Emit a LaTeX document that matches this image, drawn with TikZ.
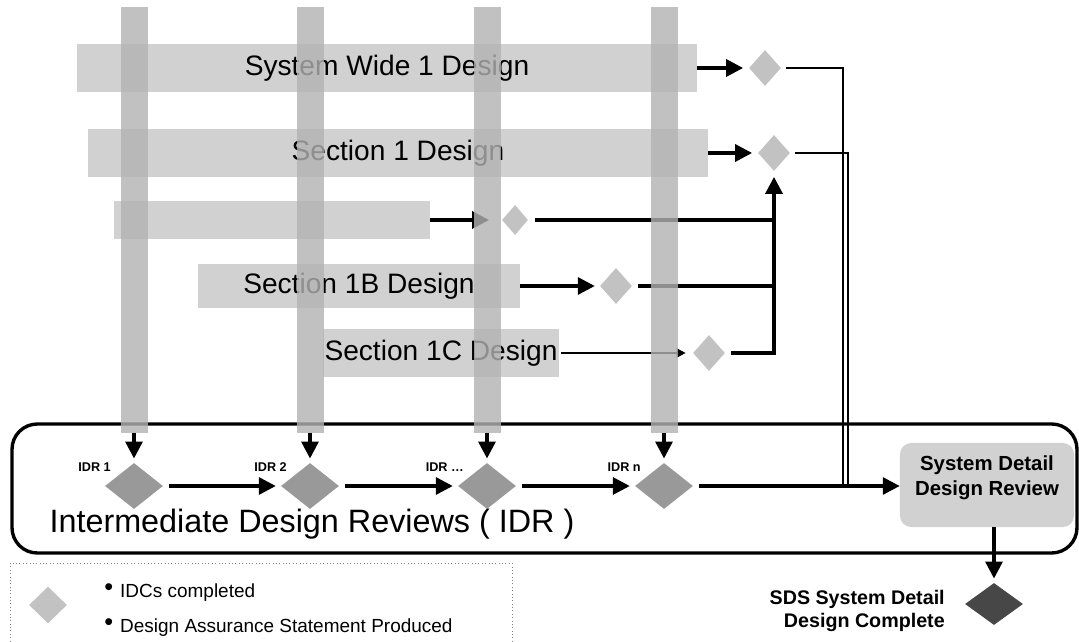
\documentclass[tikz,border=0pt]{standalone}
\usepackage{fontspec}
\setmainfont{Liberation Sans}
\usetikzlibrary{arrows.meta,shapes.geometric}
\definecolor{Barcolor}{gray}{0.82}
\definecolor{Colcolor}{gray}{0.70}
\definecolor{Diacolor}{gray}{0.76}
\definecolor{Idrcolor}{gray}{0.60}
\definecolor{Sdscolor}{gray}{0.28}

\begin{document}
\begin{tikzpicture}[x=0.025cm,y=-0.025cm,
  bar/.style={fill=Barcolor,inner sep=0pt,font=\fontsize{20}{22}\selectfont},
  dia/.style={diamond,fill=Diacolor,inner sep=0pt,minimum width=0.8cm,minimum height=0.9cm},
  idr/.style={diamond,fill=Idrcolor,inner sep=0pt,minimum width=1.45cm,minimum height=1.15cm},
  ln/.style={line width=2.4pt},
  arr/.style={line width=2.4pt,-{Triangle[length=12pt,width=12pt]}},
  lab/.style={font=\fontsize{9}{10}\selectfont\bfseries,inner sep=0pt},
  item/.style={anchor=west,inner sep=0pt,font=\fontsize{13.5}{16}\selectfont}]
\useasboundingbox (0,0) rectangle (1079,642);

\node[bar,minimum width=15.48cm,minimum height=1.18cm] (sw) at (387,68) {System Wide 1 Design\hspace{12pt}};
\node[bar,minimum width=15.5cm,minimum height=1.2cm] (s1) at (398,153) {Section 1 Design};
\node[bar,minimum width=7.88cm,minimum height=0.95cm] (sx) at (272,220) {};
\node[bar,minimum width=8.05cm,minimum height=1.1cm] (s1b) at (359,286) {Section 1B Design};
\node[bar,minimum width=5.88cm,minimum height=1.2cm] (s1c) at (441,353) {Section 1C Design};

\node[dia] (dsw) at (765,68) {};
\node[dia] (ds1) at (774,153) {};
\node[dia,minimum width=0.65cm,minimum height=0.75cm] (dsx) at (515,220) {};
\node[dia] (ds1b) at (616,286) {};
\node[dia] (ds1c) at (709,353) {};

\coordinate (m1) at (843,486);
\coordinate (m2) at (848,486);

\draw[arr,shorten >=4pt] (sw.east) -- (dsw.west);
\draw[arr,shorten >=4pt] (s1.east) -- (ds1.west);
\draw[arr,shorten >=9pt] (sx.east) -- (dsx.west);
\draw[arr,shorten >=3.5pt] (s1b.east) -- (ds1b.west);
\draw[line width=1.3pt,-{Triangle[length=6.5pt,width=6.5pt]},shorten <=1.5pt,shorten >=5pt] (s1c.east) -- (ds1c.west);

\draw[line width=1.7pt,shorten <=3pt] (dsw.east) -| (m1);
\draw[line width=1.7pt,shorten <=3pt] (ds1.east) -| (m2);
\draw[ln,shorten <=5pt] (dsx.east) -- (dsx.east -| ds1.south);
\draw[ln,shorten <=4pt] (ds1b.east) -- (ds1b.east -| ds1.south);
\draw[arr,shorten <=4pt,shorten >=4pt] (ds1c.east) -| (ds1.south);

\draw[line width=2.4pt,rounded corners=18pt] (12,424) rectangle (1077,553);

\foreach \n/\x in {1/134,2/310,3/487,4/664}
\fill[Colcolor,fill opacity=0.8] (\x-13.5,7) rectangle (\x+13.5,433);

\foreach \n/\x/\t in {1/134/{IDR 1},2/310/{IDR 2},3/487/{IDR \ldots},4/664/{IDR n}}{
\node[idr] (idr\n) at (\x,486) {};
\node[lab,anchor=east] (l\n) at (\x-23,467) {\t};
\coordinate (c\n) at (\x,433);
\draw[arr,shorten >=3pt] (c\n) -- (idr\n.north);
}
\foreach \a/\b in {1/2,2/3,3/4}
\draw[arr,shorten <=4pt,shorten >=3.5pt] (idr\a.east) -- (idr\b.west);

\node[font=\fontsize{23}{25}\selectfont] (idrt) at (312,524) {Intermediate Design Reviews ( IDR )};

\node[fill=Barcolor,rounded corners=8pt,minimum width=4.35cm,minimum height=2.1cm] (sddr) at (987,485) {};
\node[align=center,inner sep=0pt,font=\fontsize{14.5}{17.5}\selectfont\bfseries] (sddrt) at (987,478) {System Detail\\Design Review};
\draw[arr,shorten <=4pt] (idr4.east) -- (idr4.east -| sddr.west);

\node[diamond,fill=Sdscolor,inner sep=0pt,minimum width=1.45cm,minimum height=1.05cm] (sds) at (994,604) {};
\draw[arr,shorten >=3pt] (sds.north |- sddr.south) -- (sds.north);
\node[anchor=east,align=right,inner sep=0pt,font=\fontsize{14}{16}\selectfont\bfseries] (sdst) at (945,611) {SDS System Detail\\Design Complete};

\draw[dotted,gray] (10,563) rectangle (512,660);
\node[dia,minimum width=0.95cm,minimum height=0.92cm] (ld) at (48,605) {};
\node[item] (li1) at (104,593) {{\fontsize{18}{18}\selectfont\raisebox{1.5pt}{\textbullet}}\hspace{5pt}IDCs completed};
\node[item] (li2) at (104,628) {{\fontsize{18}{18}\selectfont\raisebox{1.5pt}{\textbullet}}\hspace{5pt}Design Assurance Statement Produced};
\end{tikzpicture}
\end{document}
